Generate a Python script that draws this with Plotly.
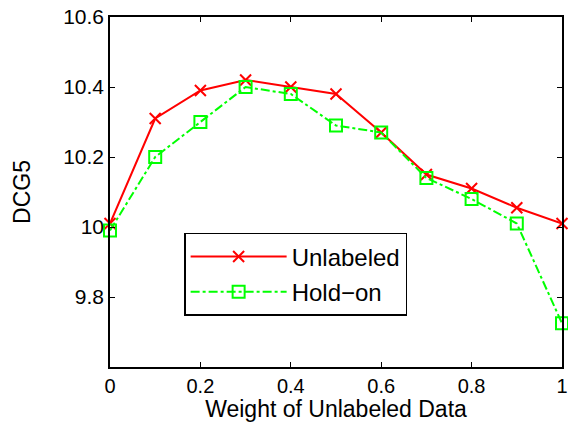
import plotly.graph_objects as go

weights = [0, 0.1, 0.2, 0.3, 0.4, 0.5, 0.6, 0.7, 0.8, 0.9, 1.0]
unlabeled = [10.01, 10.31, 10.39, 10.42, 10.40, 10.38, 10.27, 10.15, 10.11, 10.055, 10.01]
hold_on = [9.99, 10.20, 10.30, 10.40, 10.38, 10.29, 10.27, 10.14, 10.08, 10.01, 9.725]
x_ticks = [0, 0.2, 0.4, 0.6, 0.8, 1.0]
x_tick_labels = ["0", "0.2", "0.4", "0.6", "0.8", "1"]
y_ticks = [9.8, 10.0, 10.2, 10.4, 10.6]
y_tick_labels = ["9.8", "10", "10.2", "10.4", "10.6"]

FAMILY = "Liberation Sans, Arial, Helvetica, sans-serif"

fig = go.Figure()
fig.add_trace(go.Scatter(
    x=weights, y=unlabeled, name="Unlabeled", mode="lines+markers",
    legendgroup="a",
    line=dict(color="#ff0000", width=2),
    marker=dict(symbol="x-thin", size=11, line=dict(color="#ff0000", width=2)),
    cliponaxis=False,
))
fig.add_trace(go.Scatter(
    x=weights, y=hold_on, name="Hold\u2212on", mode="lines+markers",
    legendgroup="b",
    line=dict(color="#00ff00", width=2, dash="dashdot"),
    marker=dict(symbol="square-open", size=12, color="#00ff00", line=dict(color="#00ff00", width=2)),
    cliponaxis=False,
))

tick_font = dict(family=FAMILY, size=20, color="black")
title_font = dict(family=FAMILY, size=23, color="black")
fig.update_layout(
    width=568, height=422,
    margin=dict(l=110, r=6, t=17, b=55),
    paper_bgcolor="white", plot_bgcolor="white",
    font=tick_font,
    showlegend=True,
    legend=dict(
        x=0.164, y=0.383, xanchor="left", yanchor="top",
        bordercolor="black", borderwidth=1.5, bgcolor="white",
        font=dict(family=FAMILY, size=24, color="black"),
        itemwidth=96, tracegroupgap=1,
    ),
    xaxis=dict(
        range=[0, 1], tickvals=x_ticks, ticktext=x_tick_labels,
        ticks="inside", ticklen=5, tickcolor="black", mirror="ticks",
        showline=True, linecolor="black", linewidth=1.5,
        showgrid=False, zeroline=False, ticklabeloverflow="allow",
        automargin=False,
        title=dict(text="Weight of Unlabeled Data", standoff=4, font=title_font),
        tickfont=tick_font,
    ),
    yaxis=dict(
        range=[9.6, 10.6], tickvals=y_ticks, ticktext=y_tick_labels,
        ticks="inside", ticklen=5, tickcolor="black", mirror="ticks",
        showline=True, linecolor="black", linewidth=1.5,
        showgrid=False, zeroline=False, ticklabeloverflow="allow",
        automargin=False,
        title=dict(text="DCG5", standoff=26, font=title_font),
        tickfont=dict(family=FAMILY, size=21, color="black"),
    ),
)
fig.write_html(
    "out.html",
    config={"displayModeBar": False},
    post_script="document.body.style.margin='0';document.body.style.overflow='hidden';",
)
